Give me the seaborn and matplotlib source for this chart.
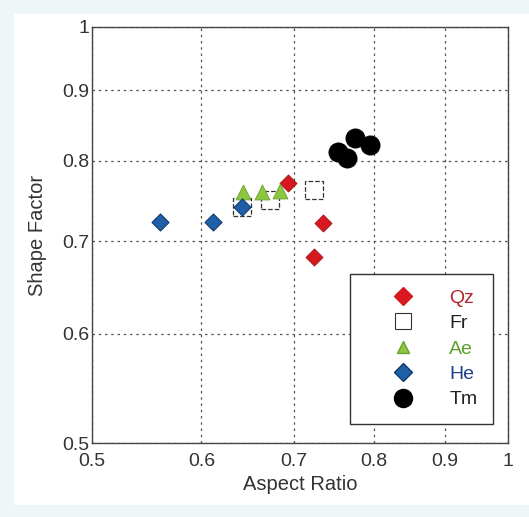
import matplotlib
matplotlib.use("Agg")
import matplotlib.pyplot as plt
import seaborn as sns
import pandas as pd
from matplotlib.lines import Line2D
from matplotlib.patches import Rectangle

# --- data ---
qz_x = [0.693, 0.735, 0.724]
qz_y = [0.771, 0.721, 0.682]
fr_x = [0.642, 0.673, 0.724]
fr_y = [0.741, 0.750, 0.762]
ae_x = [0.643, 0.664, 0.684]
ae_y = [0.760, 0.760, 0.761]
he_x = [0.560, 0.612, 0.642]
he_y = [0.722, 0.722, 0.741]
tm_x = [0.775, 0.795, 0.753, 0.765]
tm_y = [0.831, 0.822, 0.812, 0.804]

ticks = [0.5, 0.6, 0.7, 0.8, 0.9, 1]
tick_labels = ["0.5", "0.6", "0.7", "0.8", "0.9", "1"]

sns.set_style("white")
plt.rcParams['font.family'] = ['Liberation Sans', 'DejaVu Sans']

fig = plt.figure(figsize=(5.29, 5.17), dpi=100, facecolor="#eef6f8")
# white panel inside the light border of the scan
fig.add_artist(Rectangle((14 / 529, 12 / 517), 1 - 14 / 529, 1 - 26 / 517,
                         transform=fig.transFigure, facecolor="white",
                         edgecolor="none", zorder=-10))
ax = fig.add_axes([0.174, 0.143, 0.786, 0.805])

groups = [
    ("Qz", qz_x, qz_y, dict(marker="D", s=75, color="#d7191f", edgecolor="#a01010", linewidth=0.6)),
    ("Fr", fr_x, fr_y, dict(marker="s", s=170, facecolor="white", edgecolor="#333333", linewidth=0.9, linestyle="--")),
    ("Ae", ae_x, ae_y, dict(marker="^", s=115, color="#8cc63f", edgecolor="#6aa030", linewidth=0.6)),
    ("He", he_x, he_y, dict(marker="D", s=75, color="#1f5fa8", edgecolor="#0f3a70", linewidth=0.8)),
    ("Tm", tm_x, tm_y, dict(marker="o", s=190, color="black", edgecolor="black", linewidth=0.6)),
]

for name, xs, ys, kw in groups:
    df = pd.DataFrame({"x": xs, "y": ys})
    sns.scatterplot(data=df, x="x", y="y", ax=ax, legend=False, zorder=3, **kw)

ax.set_xscale("log")
ax.set_yscale("log")
ax.set_xlim(0.5, 1)
ax.set_ylim(0.5, 1)
ax.set_xticks(ticks)
ax.set_xticklabels(tick_labels)
ax.set_yticks(ticks)
ax.set_yticklabels(tick_labels)
ax.minorticks_off()
ax.tick_params(direction="in", length=4, width=0.8, labelsize=14, colors="#333333")
ax.tick_params(axis="x", pad=7)
ax.tick_params(axis="y", pad=2)
ax.grid(True, linestyle=(0, (2, 3)), color="#555555", linewidth=0.9)
for sp in ax.spines.values():
    sp.set_color("#444444")
    sp.set_linewidth(1.0)

ax.set_xlabel("Aspect Ratio", fontsize=14.5, color="#333333", labelpad=4)
ax.set_ylabel("Shape Factor", fontsize=14.5, color="#333333", labelpad=11)

# legend
handles = [
    Line2D([], [], ls="", marker="D", ms=9, color="#d7191f"),
    Line2D([], [], ls="", marker="s", ms=12, mfc="white", mec="#333333", mew=0.8),
    Line2D([], [], ls="", marker="^", ms=9, color="#8cc63f", mec="#6aa030"),
    Line2D([], [], ls="", marker="D", ms=9, color="#1f5fa8", mec="#0f3a70"),
    Line2D([], [], ls="", marker="o", ms=13, color="black"),
]
labels = ["Qz", "Fr", "Ae", "He", "Tm"]
leg = ax.legend(handles, labels, loc="lower right", bbox_to_anchor=(0.964, 0.046),
                fontsize=14, frameon=True, fancybox=False, framealpha=1,
                handletextpad=0.5, labelspacing=0.4, borderpad=0.8,
                handlelength=3.8, borderaxespad=0,
                labelcolor=["#b5232a", "#222222", "#5aa02c", "#1d3f8c", "#222222"])
leg.get_frame().set_edgecolor("#333333")
leg.get_frame().set_linewidth(1.0)
leg.set_zorder(5)

fig.savefig("out.png", dpi=100, facecolor=fig.get_facecolor())
